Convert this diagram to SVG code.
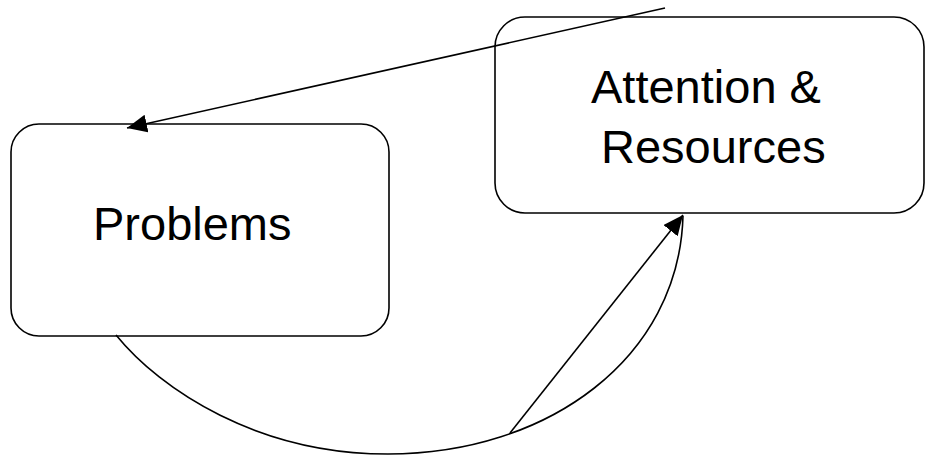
<svg xmlns="http://www.w3.org/2000/svg" width="926" height="455" viewBox="0 0 926 455">
<style>
.box{fill:#fff;stroke:#000;stroke-width:1.6}
.lbl{font-family:"Liberation Sans",Arial,sans-serif;font-size:47px;fill:#000}
.con{fill:none;stroke:#000;stroke-width:1.6}
</style>
<defs>
<marker id="ah" markerUnits="userSpaceOnUse" markerWidth="22" markerHeight="20" refX="20" refY="9" orient="auto" viewBox="0 0 22 20">
<path d="M0,0 L20,9 L0,18 z" fill="#000"/>
</marker>
</defs>
<rect width="926" height="455" fill="#fff"/>
<g id="problems">
<rect class="box" x="11" y="124" width="378" height="212" rx="28"/>
<text class="lbl" x="93" y="240">Problems</text>
</g>
<g id="attention">
<rect class="box" x="495" y="17" width="429" height="196" rx="30"/>
<text class="lbl" x="591" y="103">Attention &amp;</text>
<text class="lbl" x="601" y="163">Resources</text>
</g>
<g id="connectors">
<path class="con" d="M116,335 C161,390.4 258,454 388,454 C548,454 679,358 683,216"/>
<line class="con" x1="665" y1="8" x2="127" y2="128" marker-end="url(#ah)"/>
<line class="con" x1="510" y1="433" x2="683" y2="215" marker-end="url(#ah)"/>
</g>
</svg>
